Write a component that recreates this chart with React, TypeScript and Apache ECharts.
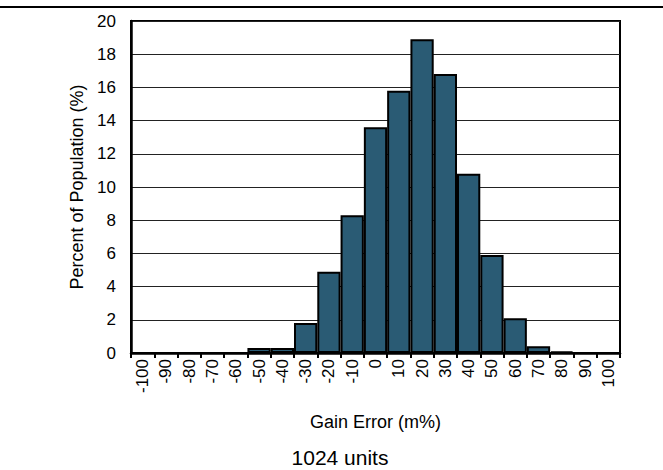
import React, { useEffect, useRef } from "react";
import * as echarts from "echarts";

const categories: string[] = [
  "-100", "-90", "-80", "-70", "-60", "-50", "-40", "-30", "-20", "-10", "0",
  "10", "20", "30", "40", "50", "60", "70", "80", "90", "100",
];
const percentValues: number[] = [
  0, 0, 0, 0, 0, 0.3, 0.3, 1.8, 4.9, 8.3, 13.6,
  15.8, 18.9, 16.8, 10.8, 5.9, 2.1, 0.4, 0.1, 0, 0,
];
const xTitle = "Gain Error (m%)";
const yTitle = "Percent of Population (%)";
const footNote = "1024 units";

export default function App() {
  const ref = useRef<HTMLDivElement>(null);
  useEffect(() => {
    document.body.style.margin = "0";
    if (!ref.current) return;
    const chart = echarts.init(ref.current, undefined, { renderer: "svg" });
    const font = "Arial, 'Liberation Sans', sans-serif";
    chart.setOption({
      animation: false,
      grid: {
        left: 131,
        right: 43,
        top: 21,
        bottom: 117,
        show: true,
        borderColor: "#000",
        borderWidth: 2,
        containLabel: false,
      },
      xAxis: {
        type: "category",
        data: categories,
        boundaryGap: true,
        name: xTitle,
        nameLocation: "middle",
        nameGap: 60,
        nameTextStyle: { fontSize: 18, color: "#000", fontFamily: font },
        axisLine: { show: true, lineStyle: { color: "#000", width: 2.5 } },
        axisTick: { show: true, length: 5, lineStyle: { color: "#000", width: 2 } },
        axisLabel: {
          interval: 0,
          rotate: 90,
          margin: 6,
          fontSize: 17,
          color: "#000",
          fontFamily: font,
        },
        splitLine: { show: false },
      },
      yAxis: {
        type: "value",
        min: 0,
        max: 20,
        interval: 2,
        name: yTitle,
        nameLocation: "middle",
        nameGap: 42,
        nameTextStyle: { fontSize: 18, color: "#000", fontFamily: font },
        axisLine: { show: true, lineStyle: { color: "#000", width: 2.5 } },
        axisTick: { show: false },
        axisLabel: { fontSize: 17, color: "#000", margin: 15, fontFamily: font },
        splitLine: { show: true, lineStyle: { color: "#222", width: 1.2 } },
      },
      series: [
        {
          type: "bar",
          data: percentValues,
          barCategoryGap: "0%",
          itemStyle: { color: "#2a5b74", borderColor: "#000", borderWidth: 2 },
        },
      ],
      graphic: [
        {
          type: "line",
          shape: { x1: 0, y1: 7, x2: 663, y2: 7 },
          style: { stroke: "#000", lineWidth: 2 },
        },
        {
          type: "text",
          x: 340,
          y: 457,
          style: {
            text: footNote,
            fontSize: 21,
            fill: "#000",
            fontFamily: font,
            align: "center",
            verticalAlign: "middle",
          },
        },
      ],
    });
    return () => chart.dispose();
  }, []);
  return <div ref={ref} style={{ width: 663, height: 470 }} />;
}
